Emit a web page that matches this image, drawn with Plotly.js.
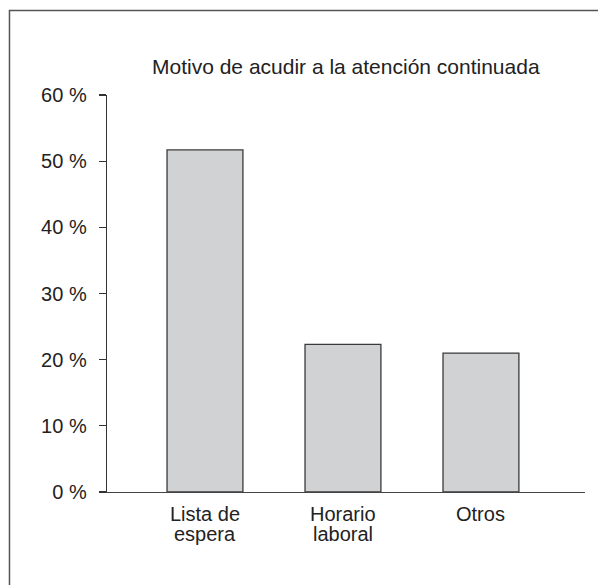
<!DOCTYPE html>
<html>
<head>
<meta charset="utf-8">
<script src="https://cdn.plot.ly/plotly-3.0.1.min.js"></script>
<style>html,body{margin:0;padding:0;background:#fff;}#chart{width:598px;height:585px;}</style>
</head>
<body>
<div id="chart"></div>
<script>
const categories = ["Lista de espera", "Horario laboral", "Otros"];
const labelLine1 = ["Lista de", "Horario", "Otros"];
const labelLine2 = ["espera", "laboral", ""];
const values = [51.7, 22.3, 21.0];
const yTickValues = [0, 10, 20, 30, 40, 50, 60];
const yTickLabels = ["0 %", "10 %", "20 %", "30 %", "40 %", "50 %", "60 %"];
const chartTitle = "Motivo de acudir a la atención continuada";

function mkFont(s) { return {family: "Liberation Sans", size: s, color: "#222"}; }

const trace = {
  type: "bar",
  x: categories,
  y: values,
  width: 0.55,
  marker: {color: "#d1d2d4", line: {color: "#3a3a3a", width: 1.3}},
  hoverinfo: "none"
};

const labelAnnotations = [];
categories.forEach((c, i) => {
  [[labelLine1[i], -9], [labelLine2[i], -29]].forEach(([t, dy]) => {
    if (!t) return;
    labelAnnotations.push({
      text: t, xref: "x", yref: "paper", x: c, y: 0,
      xanchor: "center", yanchor: "top", yshift: dy,
      showarrow: false, font: mkFont(20)
    });
  });
});

const layout = {
  width: 598, height: 585,
  margin: {l: 107, r: 13, t: 95, b: 93},
  paper_bgcolor: "#fff", plot_bgcolor: "#fff",
  font: mkFont(20),
  showlegend: false,
  xaxis: {
    type: "category",
    range: [-0.71, 2.754],
    showticklabels: false,
    ticks: "",
    showgrid: false, zeroline: false,
    showline: true, linecolor: "#444", linewidth: 1.3,
    fixedrange: true
  },
  yaxis: {
    range: [0, 60],
    tickmode: "array",
    tickvals: yTickValues,
    ticktext: yTickLabels,
    ticks: "outside", ticklen: 7, tickcolor: "#333", tickwidth: 1.3,
    ticklabelstandoff: 8,
    showgrid: false, zeroline: false,
    showline: true, linecolor: "#333", linewidth: 1.3,
    tickfont: mkFont(20),
    fixedrange: true
  },
  annotations: [{
    text: chartTitle, xref: "paper", yref: "paper",
    x: 0.5, y: 1.0706, xanchor: "center", yanchor: "middle",
    showarrow: false, font: mkFont(21)
  }].concat(labelAnnotations),
  shapes: [{
    type: "rect", xref: "paper", yref: "paper",
    x0: -0.204, x1: 1.05, y0: -0.26, y1: 1.213,
    line: {color: "#555", width: 1.5}, layer: "below"
  }]
};

Plotly.newPlot("chart", [trace], layout, {displayModeBar: false, staticPlot: true});
</script>
</body>
</html>
